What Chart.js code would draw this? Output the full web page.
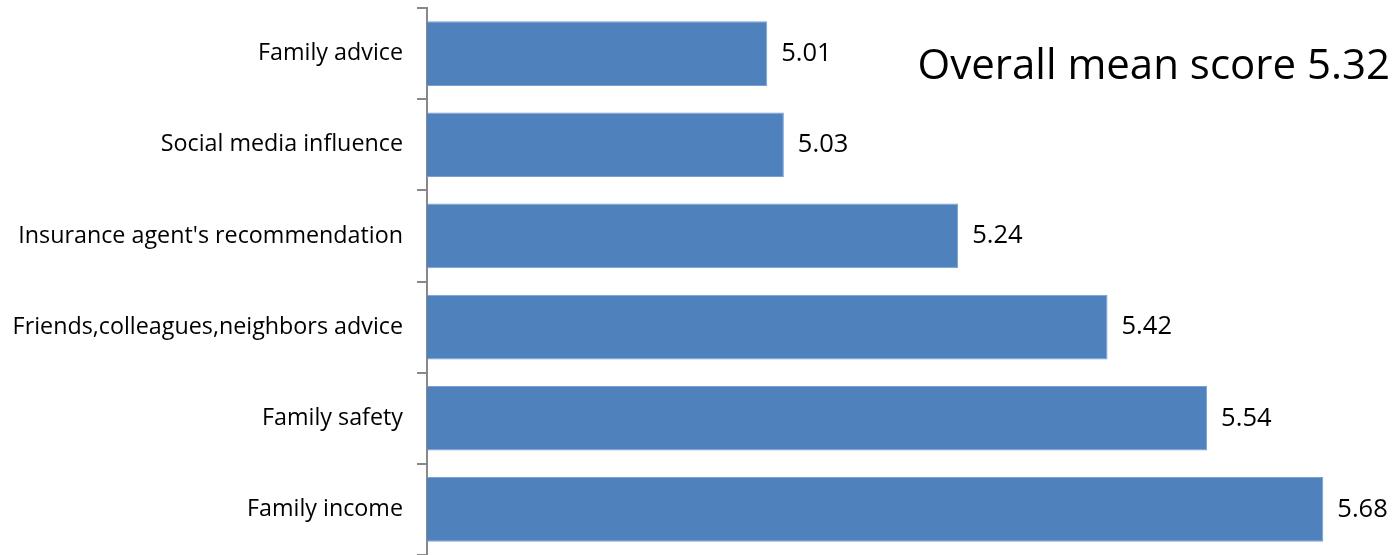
<!DOCTYPE html>
<html>
<head>
<meta charset="utf-8">
<script src="https://cdn.jsdelivr.net/npm/chart.js@4.4.0/dist/chart.umd.min.js"></script>
<style>
  html, body { margin: 0; padding: 0; background: #fff; }
  #wrap { width: 1398px; height: 555px; position: relative; }
</style>
</head>
<body>
<div id="wrap"><canvas id="myChart"></canvas></div>
<script>
  const categories = [
    "Family advice",
    "Social media influence",
    "Insurance agent's recommendation",
    "Friends,colleagues,neighbors advice",
    "Family safety",
    "Family income"
  ];
  const scores = [5.01, 5.03, 5.24, 5.42, 5.54, 5.68];
  const overallMean = "5.32";

  const fontFamily = "'Open Sans', 'Noto Sans', sans-serif";

  // value labels next to each bar + the overall mean note
  const labelPlugin = {
    id: 'barLabels',
    afterDatasetsDraw(chart) {
      const ctx = chart.ctx;
      const meta = chart.getDatasetMeta(0);
      ctx.save();
      ctx.fillStyle = '#000';
      ctx.font = "25.5px " + fontFamily;
      ctx.textAlign = 'left';
      ctx.textBaseline = 'middle';
      meta.data.forEach((bar, i) => {
        ctx.fillText(scores[i].toFixed(2), bar.x + 14, bar.y);
      });
      ctx.font = "42px " + fontFamily;
      ctx.textAlign = 'right';
      ctx.fillText("Overall mean score " + overallMean, 1390, 67);
      ctx.restore();
    }
  };

  const ctx = document.getElementById('myChart').getContext('2d');
  new Chart(ctx, {
    type: 'bar',
    data: {
      labels: categories,
      datasets: [{
        data: scores,
        backgroundColor: '#4F81BD',
        borderColor: '#7A9FD0',
        borderWidth: 1,
        borderSkipped: 'start',
        barPercentage: 0.71,
        categoryPercentage: 1.0
      }]
    },
    options: {
      indexAxis: 'y',
      responsive: true,
      maintainAspectRatio: false,
      animation: false,
      layout: { padding: { top: 8, bottom: 0, left: 0, right: 0 } },
      plugins: {
        legend: { display: false },
        tooltip: { enabled: false }
      },
      scales: {
        x: {
          display: false,
          min: 4.6,
          max: 5.77
        },
        y: {
          offset: true,
          afterFit(scale) {
            scale.width = 427;
            scale.paddingTop = 0;
            scale.paddingBottom = 0;
          },
          border: { display: true, color: '#888888', width: 2 },
          grid: {
            offset: true,
            drawOnChartArea: false,
            drawTicks: true,
            tickLength: 10,
            color: '#888888',
            lineWidth: 2
          },
          ticks: {
            color: '#000',
            padding: 14,
            font: { family: fontFamily, size: 23.3 }
          }
        }
      }
    },
    plugins: [labelPlugin]
  });
</script>
</body>
</html>
